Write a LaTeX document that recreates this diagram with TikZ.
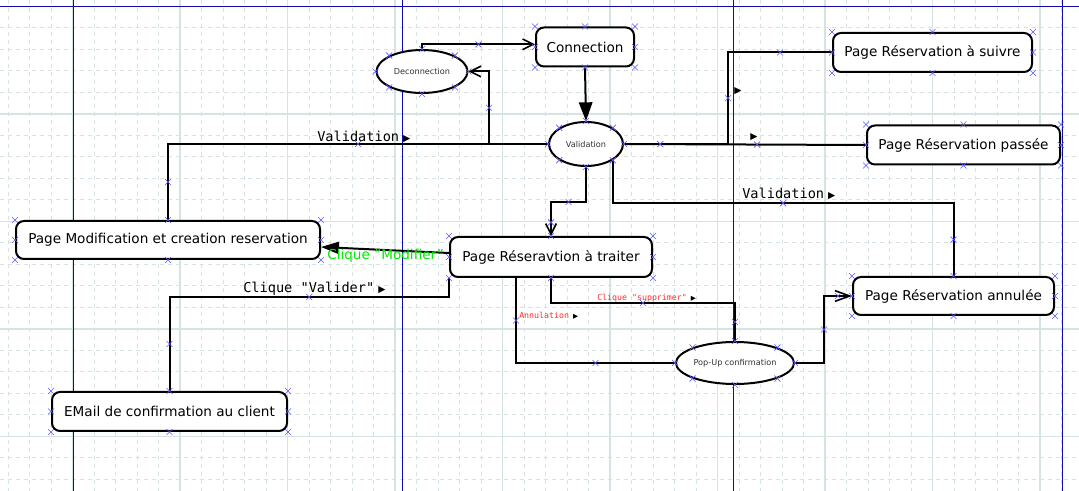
\documentclass[tikz,border=0pt]{standalone}
\usepackage{fontspec}
\setmainfont{DejaVu Sans}
\newfontfamily\monofont{DejaVu Sans Mono}
\newfontfamily\trifont{DejaVu Sans}
\usetikzlibrary{calc,arrows.meta,shapes.geometric}

\definecolor{gridcol}{RGB}{214,227,227}
\definecolor{pageblue}{RGB}{10,10,175}
\definecolor{xblue}{RGB}{90,90,255}
\definecolor{lblred}{RGB}{255,45,45}
\definecolor{lblgreen}{RGB}{0,235,0}

\newcommand{\dirtri}[1][7]{\hspace{3pt}{\color{black}\trifont\fontsize{#1}{#1}\selectfont ▶}}

\tikzset{
  box/.style={draw,rounded corners=6pt,line width=1.5pt,fill=white,inner sep=0pt,
    font=\fontsize{10.2}{12}\selectfont},
  oval/.style={draw,ellipse,line width=1.5pt,fill=white,inner sep=0pt,text=black!80,
    font=\fontsize{6.1}{7}\selectfont},
  link/.style={line width=1.5pt},
  barb/.style={-{Straight Barb[length=8pt,width=8pt,line width=1.2pt]}},
  lbl/.style={anchor=west,inner sep=0pt,font=\monofont\fontsize{10.2}{12}\selectfont},
  smalllbl/.style={anchor=west,inner sep=0pt,text=lblred,font=\monofont\fontsize{6.2}{7}\selectfont},
  xm/.pic={\draw[xblue,line width=0.5pt,arrows=-] (-3,-3) -- (3,3) (-3,3) -- (3,-3);}
}

\begin{document}
\begin{tikzpicture}[x=0.75pt,y=-0.75pt]
\useasboundingbox (0,0) rectangle (1079,491);
\fill[white] (0,0) rectangle (1079,491);

% grille
\foreach \i in {0,...,50}
  \draw[gridcol,line width=0.75pt,dash pattern=on 3pt off 3pt] ({8+21.5*\i},0) -- ++(0,491);
\foreach \j in {0,...,22}
  \draw[gridcol,line width=0.75pt,dash pattern=on 3pt off 3pt] (0,{6.5+21.5*\j}) -- ++(1079,0);
\foreach \i in {-1,...,9}
  \draw[gridcol,line width=0.9pt] ({72.5+107.5*\i},0) -- ++(0,491);
\foreach \j in {0,...,4}
  \draw[gridcol,line width=0.9pt] (0,{6.5+107.5*\j}) -- ++(1079,0);

% pages
\draw[pageblue,line width=0.75pt] (0,6.5) -- (1079,6.5);
\foreach \px in {73.5,402.5,733.5,1062.5}
  \draw[pageblue,line width=0.75pt] (\px,0) -- (\px,491);

% etats
\node[box,minimum width=73.5pt,minimum height=29.25pt] (con) at (585,47) {Connection};
\node[oval,minimum width=68.25pt,minimum height=32.25pt] (deco) at (422,71.5) {Deconnection};
\node[oval,minimum width=55.5pt,minimum height=33pt] (valid) at (586,144) {Validation};
\node[box,minimum width=149.25pt,minimum height=29.25pt] (suivre) at (932.5,52.5) {Page Réservation à suivre};
\node[box,minimum width=144.75pt,minimum height=29.25pt] (passee) at (963.5,145) {Page Réservation passée};
\node[box,minimum width=150.75pt,minimum height=28.5pt] (annulee) at (953.5,296) {Page Réservation annulée};
\node[box,minimum width=228pt,minimum height=28.5pt] (modif) at (168,240) {Page Modification et creation reservation};
\node[box,minimum width=151.5pt,minimum height=30pt] (traiter) at (551,257) {Page Réseravtion à traiter};
\node[oval,minimum width=88.5pt,minimum height=31.5pt] (popup) at (735,363) {Pop-Up confirmation};
\node[box,minimum width=176.25pt,minimum height=29.25pt] (email) at (169.5,411.5) {EMail de confirmation au client};

% transitions
\draw[link,barb] (deco.north) |- ([yshift=2pt]con.west) pic[pos=0.75]{xm};
\draw[link,-{Triangle[length=14pt,width=10pt]}] (con.south) -- (valid.north);
\draw[link,barb] (valid.west) -- ++(-59,0) |- (deco.east) pic[pos=0.25]{xm};
\draw[link] (valid.west) -| (modif.north) pic[pos=0.25]{xm} pic[pos=0.75]{xm};
\draw[link] (valid.east) -- ++(104,0) |- (suivre.west) pic[pos=0.25]{xm} pic[pos=0.75]{xm};
\draw[link] (valid.east) -- (passee.west) pic[pos=0.15]{xm} pic[pos=0.55]{xm};
\draw[link,barb] (valid.south) -- ++(0,35) -| (traiter.north) pic[pos=0.25]{xm} pic[pos=0.8]{xm};
\draw[link] (valid.south east) -- ++(0,43) -| (annulee.north) pic[pos=0.25]{xm} pic[pos=0.75]{xm};
\draw[link,-{Triangle[length=13.5pt,width=9pt]}] ($(traiter.west)+(0,-4)$) -- ($(modif.east)+(0,7)$);
\draw[link] (traiter.south west) -- ++(0,19) -| (email.north) pic[pos=0.25]{xm} pic[pos=0.75]{xm};
\draw[link] ($(traiter.south)+(-35,0)$) |- (popup.west) pic[pos=0.25]{xm} pic[pos=0.75]{xm};
\draw[link] (traiter.south) -- ++(0,25) -| (popup.north) pic[pos=0.25]{xm} pic[pos=0.75]{xm};
\draw[link,-{Straight Barb[length=11pt,width=8pt,line width=1.2pt]}] (popup.east) -- ++(29,0) |- (annulee.west) pic[pos=0.25]{xm} pic[pos=0.75]{xm};

% points d'ancrage
\foreach \n in {con,deco,valid,suivre,passee,annulee,modif,traiter,popup,email}
  \foreach \a in {north west,north,north east,west,east,south west,south,south east}
    \pic at (\n.\a) {xm};

% etiquettes
\node[lbl] (lvalid) at (317,137) {Validation\dirtri};
\node[lbl] (lvalider) at (243,289) {Clique "Valider"\dirtri};
\node[lbl] (lvalidb) at (742,194) {Validation\dirtri};
\node[lbl,text=lblgreen,font=\fontsize{10.2}{12}\selectfont] (lmodif) at (327,256) {Clique "Modifier"};
\node[smalllbl] (lsuppr) at (597,298) {Clique "supprimer"\dirtri[5]};
\node[smalllbl] (lannul) at (519,316) {Annulation\dirtri[5]};
\node[lbl] (tsuivre) at (730,91) {\dirtri};
\node[lbl] (tpassee) at (746,137) {\dirtri};
\end{tikzpicture}
\end{document}
